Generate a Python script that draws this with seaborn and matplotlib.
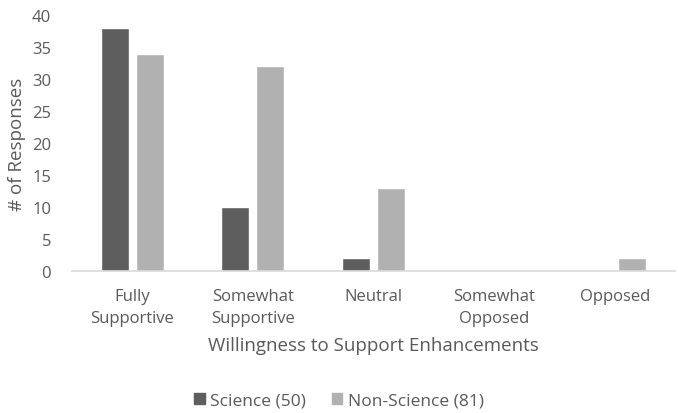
import matplotlib
matplotlib.use("Agg")
import matplotlib.pyplot as plt
import seaborn as sns
import pandas as pd

categories = ["Fully\nSupportive", "Somewhat\nSupportive", "Neutral", "Somewhat\nOpposed", "Opposed"]
science = [38, 10, 2, 0, 0]
non_science = [34, 32, 13, 0, 2]
series_names = ["Science (50)", "Non-Science (81)"]
y_ticks = [0, 5, 10, 15, 20, 25, 30, 35, 40]

df = pd.DataFrame({
    "category": categories * 2,
    "count": science + non_science,
    "group": [series_names[0]] * len(categories) + [series_names[1]] * len(categories),
})

sns.set_theme(style="white")
plt.rcParams["font.family"] = ["Open Sans", "DejaVu Sans"]
text_color = "#595959"
colors = ["#5e5e5e", "#b1b1b1"]

fig = plt.figure(figsize=(6.78, 4.14), dpi=100)
ax = fig.add_axes([0.106, 0.343, 0.890, 0.618])

sns.barplot(data=df, x="category", y="count", hue="group", order=categories,
            hue_order=series_names, palette=colors,
            width=0.58, gap=0.2, ax=ax, legend=False)

ax.set_ylim(0, 40)
ax.set_yticks(y_ticks)
ax.set_xlim(-0.5, len(categories) - 0.5)
ax.tick_params(axis="both", length=0, labelsize=12, colors=text_color)
ax.tick_params(axis="y", pad=15)
ax.tick_params(axis="x", pad=12)
for lbl in ax.get_xticklabels():
    lbl.set_linespacing(1.55)

for side in ["top", "right", "left"]:
    ax.spines[side].set_visible(False)
ax.spines["bottom"].set_color("#d9d9d9")
ax.spines["bottom"].set_linewidth(1.2)

ax.set_xlabel("Willingness to Support Enhancements", fontsize=13.5, color=text_color, labelpad=7)
ax.set_ylabel("# of Responses", fontsize=13.5, color=text_color, labelpad=4)

handles = [plt.Rectangle((0, 0), 1, 1, color=c) for c in colors]
fig.legend(handles, series_names, loc="center", bbox_to_anchor=(0.5, 0.031), ncol=2,
           frameon=False, fontsize=12.5, labelcolor=text_color, handlelength=0.6,
           handleheight=0.6, handletextpad=0.3, columnspacing=1.5)

fig.savefig("out.png", dpi=100)
